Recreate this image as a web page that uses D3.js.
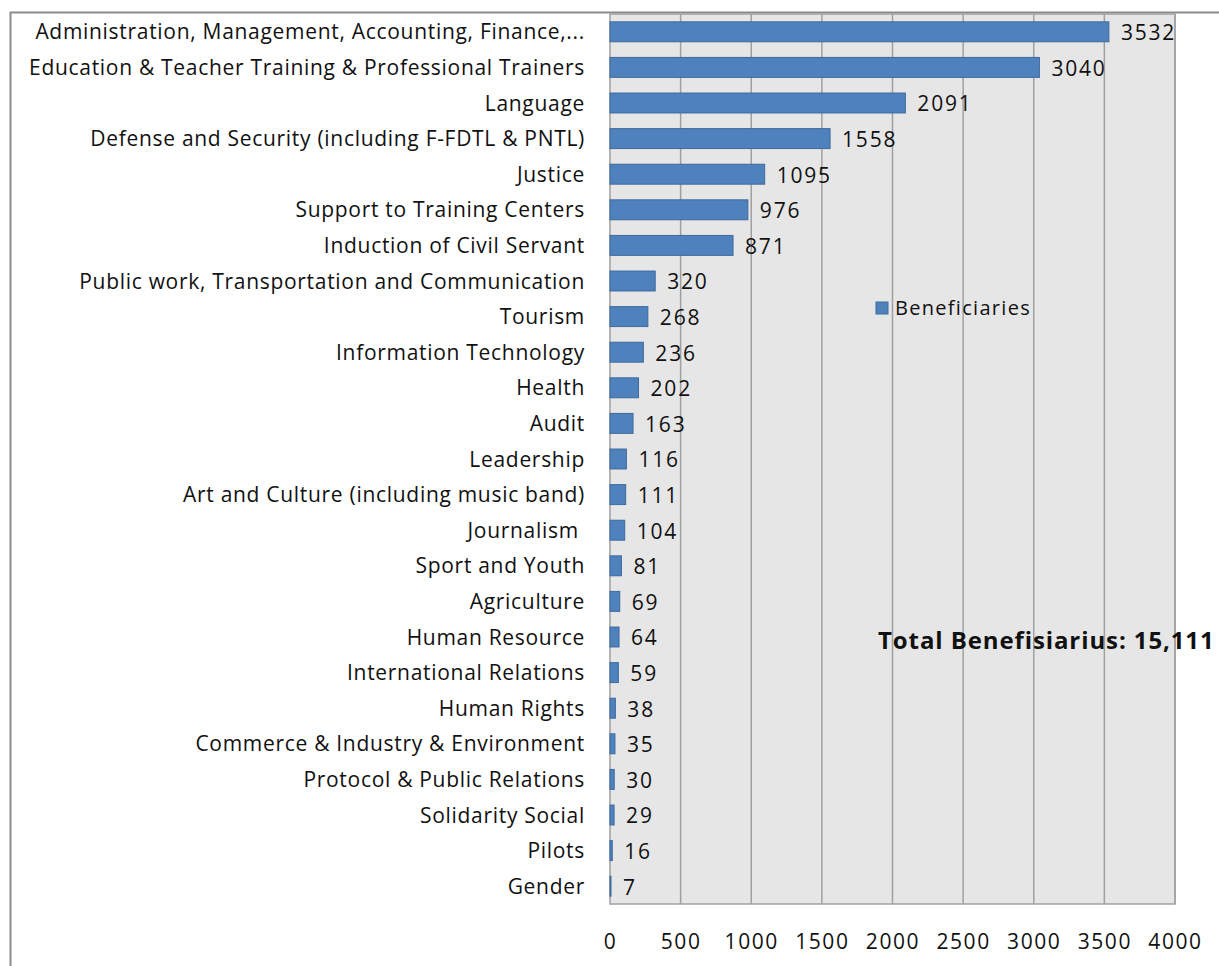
<!DOCTYPE html>
<html><head><meta charset="utf-8">
<script src="https://cdn.jsdelivr.net/npm/d3@7"></script>
<style>
body{margin:0;background:#fff;}
svg text{font-family:"Open Sans",sans-serif;}
</style></head>
<body><svg id="c" width="1219" height="966"></svg>
<script>
const categories = ["Administration, Management, Accounting, Finance,...",
"Education & Teacher Training & Professional Trainers","Language",
"Defense and Security (including F-FDTL & PNTL)","Justice","Support to Training Centers",
"Induction of Civil Servant","Public work, Transportation and Communication","Tourism",
"Information Technology","Health","Audit","Leadership","Art and Culture (including music band)",
"Journalism ","Sport and Youth","Agriculture","Human Resource","International Relations",
"Human Rights","Commerce & Industry & Environment","Protocol & Public Relations",
"Solidarity Social","Pilots","Gender"];
const values = [3532,3040,2091,1558,1095,976,871,320,268,236,202,163,116,111,104,81,69,64,59,38,35,30,29,16,7];
const xTicks = [0,500,1000,1500,2000,2500,3000,3500,4000];
const seriesName = "Beneficiaries";
const totalLabel = "Total Benefisiarius: 15,111";

const svg = d3.select("#c");
const m = {left:610, right:1175, top:14, bottom:904};
svg.append("path").attr("d","M10.5,966 V12.5 H1219").attr("fill","none").attr("stroke","#8c8c8c").attr("stroke-width",2);

const x = d3.scaleLinear().domain([0,4000]).range([m.left,m.right]);
const y = d3.scaleBand().domain(categories).range([m.top,m.bottom]).paddingInner(0.44).paddingOuter(0.22);

svg.append("rect").attr("x",m.left).attr("y",m.top).attr("width",m.right-m.left).attr("height",m.bottom-m.top)
  .attr("fill","#e6e6e6").attr("stroke","#a0a0a0").attr("stroke-width",1.5);
svg.append("g").selectAll("line").data(xTicks.slice(1)).join("line")
  .attr("x1",d=>x(d)).attr("x2",d=>x(d)).attr("y1",m.top).attr("y2",m.bottom)
  .attr("stroke","#a0a0a0").attr("stroke-width",1.5);

svg.append("g").selectAll("rect").data(values).join("rect")
  .attr("x",x(0)).attr("y",(d,i)=>y(categories[i]))
  .attr("width",d=>x(d)-x(0)).attr("height",y.bandwidth())
  .attr("fill","#4f81bd").attr("stroke","#3d6a9e").attr("stroke-width",1);

svg.append("g").selectAll("text").data(values).join("text")
  .attr("x",d=>x(d)+12).attr("y",(d,i)=>y(categories[i])+y.bandwidth()/2)
  .attr("dy","0.4em").attr("font-size",21).attr("letter-spacing",1.8).attr("fill","#111").text(d=>d);

svg.append("g").selectAll("text").data(categories).join("text")
  .attr("x",m.left-25).attr("y",d=>y(d)+y.bandwidth()/2).attr("dy","0.36em")
  .attr("text-anchor","end").attr("font-size",21).attr("letter-spacing",0.7).attr("fill","#111")
  .style("white-space","pre").text(d=>d);

const ax = svg.append("g").attr("transform",`translate(0,${m.bottom+30})`)
  .call(d3.axisBottom(x).tickValues(xTicks).tickFormat(d3.format("d")).tickSize(0).tickPadding(0));
ax.select(".domain").remove();
ax.selectAll("text").attr("font-size",21).attr("letter-spacing",1.6).attr("fill","#111").attr("dy","0.71em").attr("font-family","Open Sans");

const lg = svg.append("g");
lg.append("rect").attr("x",876).attr("y",302).attr("width",12).attr("height",12).attr("fill","#4f81bd").attr("stroke","#3d6a9e");
lg.append("text").attr("x",895).attr("y",308).attr("dy","0.36em").attr("font-size",20).attr("letter-spacing",1.3).attr("fill","#111").text(seriesName);

svg.append("text").attr("x",878).attr("y",640).attr("dy","0.36em").attr("font-size",24).attr("letter-spacing",0.9).attr("font-weight","bold").attr("fill","#111").text(totalLabel);
</script></body></html>
